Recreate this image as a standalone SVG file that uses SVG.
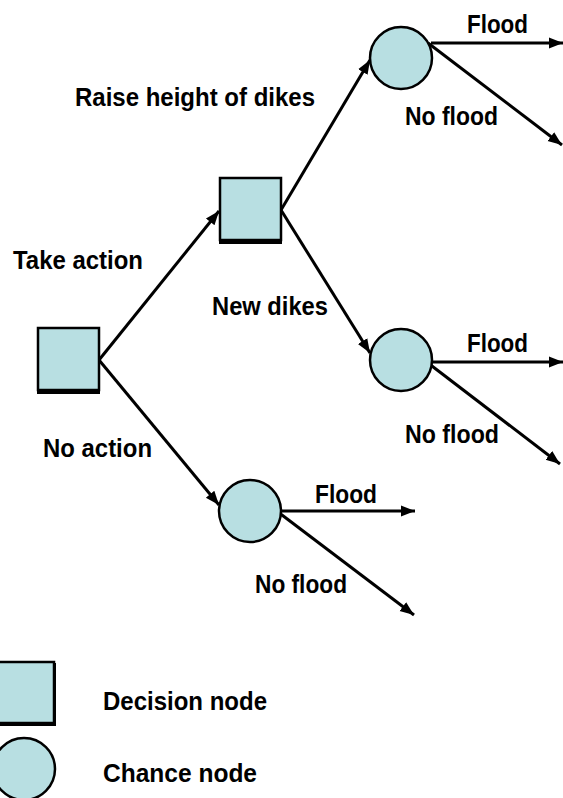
<svg xmlns="http://www.w3.org/2000/svg" width="563" height="798" viewBox="0 0 563 798">
<style>
.node{fill:#b8dfe2;stroke:#000;stroke-width:2.5}
.shadow{fill:#000}
.lbl{font-family:"Liberation Sans",Arial,sans-serif;font-weight:bold;font-size:26px;fill:#000}
.edge{stroke:#000;stroke-width:3;fill:none;marker-end:url(#arr)}
</style>
<defs>
<marker id="arr" markerUnits="userSpaceOnUse" markerWidth="16" markerHeight="14" viewBox="0 0 16 14" refX="14" refY="7" orient="auto">
<path d="M0,1.5 L14,7 L0,12.5 Z" fill="#000"/>
</marker>
</defs>
<rect width="563" height="798" fill="#fff"/>
<g id="connectors">
<line class="edge" x1="99" y1="360" x2="219" y2="211"/>
<line class="edge" x1="99" y1="360" x2="219" y2="505"/>
<line class="edge" x1="281" y1="210" x2="370" y2="60"/>
<line class="edge" x1="281" y1="210" x2="370" y2="353"/>
<line class="edge" x1="431" y1="43" x2="563" y2="43"/>
<line class="edge" x1="428" y1="43" x2="562" y2="145"/>
<line class="edge" x1="431" y1="362" x2="563" y2="362"/>
<line class="edge" x1="428" y1="363" x2="560" y2="464"/>
<line class="edge" x1="281" y1="511" x2="415" y2="511"/>
<line class="edge" x1="278" y1="512" x2="414" y2="615"/>
</g>
<g id="decision-root">
<rect class="shadow" x="37" y="330" width="63" height="64"/>
<rect class="node" x="38" y="328" width="61" height="62"/>
</g>
<g id="decision-action">
<rect class="shadow" x="219" y="180" width="63" height="64"/>
<rect class="node" x="220" y="178" width="61" height="62"/>
</g>
<g id="chance-raise"><circle class="node" cx="401" cy="58" r="31"/></g>
<g id="chance-new"><circle class="node" cx="401" cy="360" r="31"/></g>
<g id="chance-noaction"><circle class="node" cx="250" cy="511" r="31"/></g>
<g id="labels">
<text class="lbl" x="75" y="106" textLength="240" lengthAdjust="spacingAndGlyphs">Raise height of dikes</text>
<text class="lbl" x="13" y="269" textLength="130" lengthAdjust="spacingAndGlyphs">Take action</text>
<text class="lbl" x="212" y="315" textLength="116" lengthAdjust="spacingAndGlyphs">New dikes</text>
<text class="lbl" x="43" y="457" textLength="109" lengthAdjust="spacingAndGlyphs">No action</text>
<text class="lbl" x="467" y="33" textLength="61" lengthAdjust="spacingAndGlyphs">Flood</text>
<text class="lbl" x="405" y="125" textLength="93" lengthAdjust="spacingAndGlyphs">No flood</text>
<text class="lbl" x="467" y="352" textLength="61" lengthAdjust="spacingAndGlyphs">Flood</text>
<text class="lbl" x="405" y="443" textLength="94" lengthAdjust="spacingAndGlyphs">No flood</text>
<text class="lbl" x="315" y="503" textLength="62" lengthAdjust="spacingAndGlyphs">Flood</text>
<text class="lbl" x="255" y="593" textLength="92" lengthAdjust="spacingAndGlyphs">No flood</text>
</g>
<g id="legend-decision">
<rect class="shadow" x="-5" y="663" width="61" height="63"/>
<rect class="node" x="-4" y="662" width="58" height="61"/>
<text class="lbl" x="103" y="710" textLength="164" lengthAdjust="spacingAndGlyphs">Decision node</text>
</g>
<g id="legend-chance">
<circle class="node" cx="24" cy="769" r="31"/>
<text class="lbl" x="103" y="782" textLength="154" lengthAdjust="spacingAndGlyphs">Chance node</text>
</g>
</svg>
